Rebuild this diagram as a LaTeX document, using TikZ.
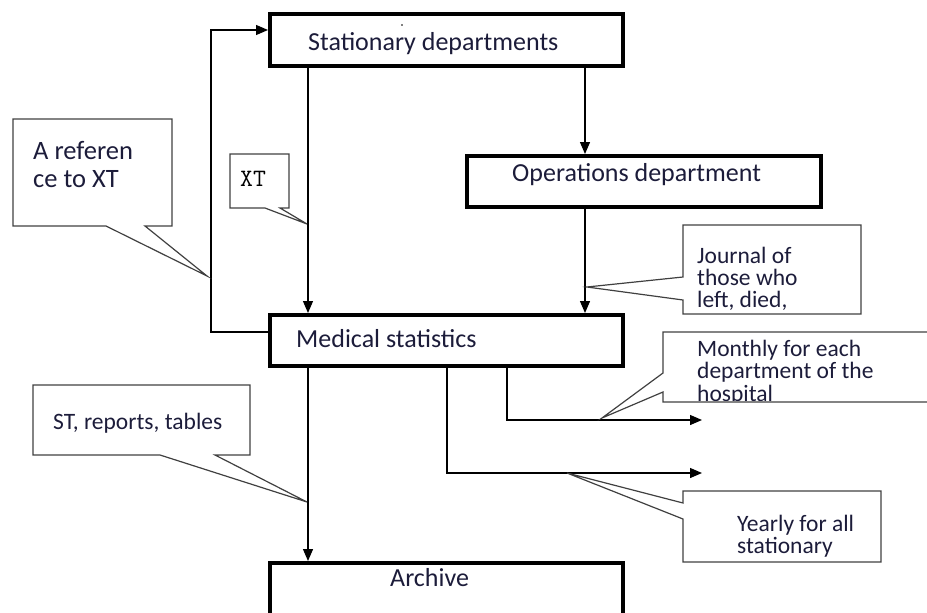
\documentclass[tikz,border=0pt]{standalone}
\usepackage{fontspec}
\setmainfont{Carlito}
\usetikzlibrary{arrows.meta,calc}
\definecolor{txt}{RGB}{28,28,58}
\definecolor{cgray}{RGB}{64,64,64}
\begin{document}
\begin{tikzpicture}[x=1pt,y=-1pt,
  box/.style={draw, line width=4pt, minimum width=353pt, minimum height=51pt, inner sep=0pt},
  btxt/.style={anchor=base west, inner sep=0pt, text=txt, font=\fontsize{26}{30}\selectfont},
  ctxt/.style={anchor=base west, inner sep=0pt, text=txt, font=\fontsize{23.5}{22}\selectfont},
  callout/.style={draw=cgray, line width=1.2pt, line join=miter},
  conn/.style={line width=1.3pt},
  arr/.style={conn, -{Triangle[length=12pt,width=10pt]}}]
\clip (0,0) rectangle (927,613);
% boxes
\node[box, minimum height=52pt] (sd) at (446.5,40) {};
\node[box, minimum width=354pt] (opd) at (644,181.5) {};
\node[box] (ms) at (446.5,340.5) {};
\node[box, minimum height=87pt] (ar) at (446.5,606.5) {};
\node[btxt] (sdt) at (308,50) {Stationary departments};
\node[btxt] (opdt) at (512,181) {Operations department};
\node[btxt] (mst) at (296,347) {Medical statistics};
\node[btxt] (art) at (390,586) {Archive};
\fill[black] (402,25) circle (0.9);
% helper coordinates
\coordinate (xa) at (308,0);
\coordinate (xb) at (585,0);
\coordinate (xl) at (211,0);
\coordinate (xc) at (447,0);
\coordinate (xd) at (507,0);
\coordinate (ya) at (0,30);
\coordinate (yb) at (0,332);
\coordinate (e1) at (702,420);
\coordinate (e2) at (702,473);
% connectors
\draw[arr] (sd.south -| xa) -- (ms.north -| xa);
\draw[arr] (sd.south -| xb) -- (opd.north -| xb);
\draw[arr] (opd.south -| xb) -- (ms.north -| xb);
\draw[arr] (ms.south -| xa) -- (ar.north -| xa);
\draw[arr] (ms.west |- yb) -| (xl |- ya) -- (sd.west |- ya);
\draw[arr] (ms.south -| xd) |- (e1);
\draw[arr] (ms.south -| xc) |- (e2);
% callouts
\draw[callout] (13,119) -- (172,119) -- (172,226) -- (145,226) -- (207,276) -- (106,226) -- (13,226) -- cycle;
\node[anchor=base west, inner sep=0pt, text=txt, font=\fontsize{26.5}{28}\selectfont] (reft) at (33,159)
  {\vtop{\baselineskip=28pt \hbox{A referen}\hbox{ce to XT}}};
\draw[callout] (230,154) -- (289,154) -- (289,208) -- (280,208) -- (307,224) -- (265,208) -- (230,208) -- cycle;
\node[anchor=base west, inner sep=0pt, text=black, font=\ttfamily\fontsize{25}{28}\selectfont] (xtt) at (240,186) {XT};
\draw[callout] (683,225) -- (861,225) -- (861,314) -- (683,314) -- (683,300) -- (587,287) -- (683,277) -- cycle;
\node[ctxt] (jt) at (697,263) {\vtop{\baselineskip=22pt \hbox{Journal of}\hbox{those who}\hbox{left, died,}}};
\draw[callout] (930,332) -- (663,332) -- (663,373) -- (602,418) -- (663,392) -- (663,402) -- (930,402);
\begin{scope}
\clip (664,333) rectangle (930,400);
\node[ctxt] (mt) at (697,356) {\vtop{\baselineskip=22.5pt \hbox{Monthly for each}\hbox{department of the}\hbox{hospital}}};
\end{scope}
\draw[callout] (683,491) -- (881,491) -- (881,562) -- (683,562) -- (683,519) -- (567,473) -- (683,503) -- cycle;
\node[ctxt] (yt) at (737,531) {\vtop{\baselineskip=22.5pt \hbox{Yearly for all}\hbox{stationary}}};
\draw[callout] (33,385) -- (250,385) -- (250,455) -- (215,455) -- (307,502) -- (160,455) -- (33,455) -- cycle;
\node[ctxt] (stt) at (53,429) {ST, reports, tables};
\end{tikzpicture}
\end{document}
